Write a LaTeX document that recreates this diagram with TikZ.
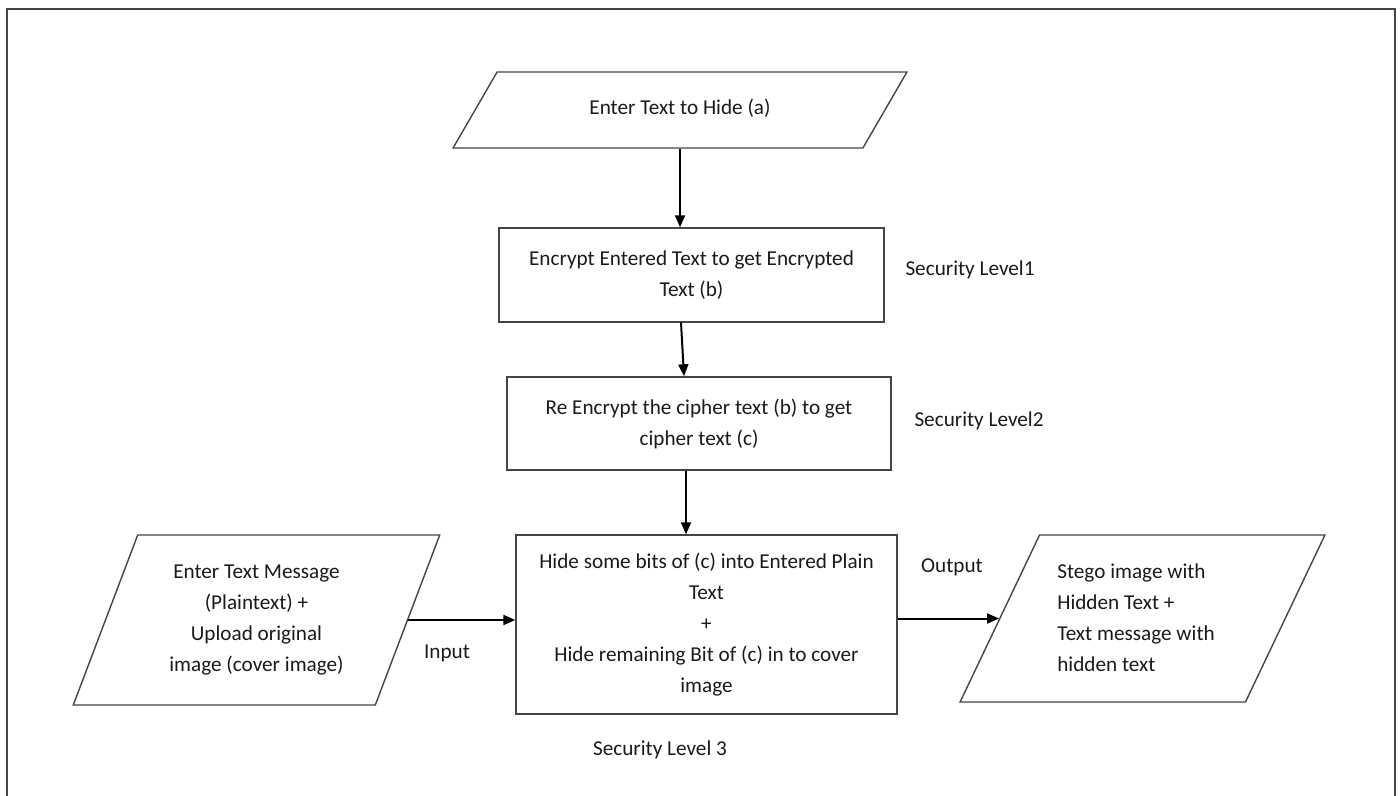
\documentclass[tikz,border=0pt]{standalone}
\usepackage{fontspec}
\setmainfont{Carlito}
\usepackage{xcolor}
\usepackage{tikz}
\usetikzlibrary{calc,arrows.meta,shapes.geometric}
\definecolor{edge}{HTML}{454545}
\definecolor{ink}{HTML}{1A1A1A}
\tikzset{
  stepbox/.style={draw=edge, line width=0.7pt, rectangle, align=center, text=ink,
    inner sep=0pt},
  iobox/.style={draw=edge, line width=0.7pt, trapezium, trapezium stretches=true,
    inner sep=0pt, text=ink},
  flow/.style={draw=black, line width=1pt, -{Triangle[length=6pt,width=5pt]}},
  lab/.style={text=ink, inner sep=1pt},
  every node/.style={font=\fontsize{10.6}{15.5}\selectfont},
}
\begin{document}
\begin{tikzpicture}[x=0.5pt,y=-0.5pt]
  \useasboundingbox (0,0) rectangle (1400,796);
  \clip (0,0) rectangle (1400,796);
  \draw[edge, line width=1pt] (7,9) rectangle (1395,820);

  \node[iobox, trapezium left angle=44.6, trapezium right angle=135.4,
        minimum width=227pt, minimum height=38pt] (hide) at (680,110)
        {\raisebox{3pt}{Enter Text to Hide (a)}};

  \node[stepbox, minimum width=192.5pt, minimum height=47pt] (enc) at (691.5,275)
        {\raisebox{4pt}{\begin{tabular}{@{}c@{}}Encrypt Entered Text to get Encrypted\\Text (b)\end{tabular}}};
  \node[stepbox, minimum width=192pt, minimum height=46.5pt] (reenc) at (699,423.5)
        {\raisebox{4pt}{\begin{tabular}{@{}c@{}}Re Encrypt the cipher text (b) to get\\cipher text (c)\end{tabular}}};
  \node[stepbox, minimum width=190.5pt, minimum height=89.5pt] (embed) at (706.5,624.5)
        {\raisebox{3pt}{\begin{tabular}{@{}c@{}}Hide some bits of (c) into Entered Plain\\Text\\+\\Hide remaining Bit of (c) in to cover\\image\end{tabular}}};

  \node[iobox, trapezium left angle=66.8, trapezium right angle=113.2,
        minimum width=183.5pt, minimum height=85pt, align=center] (msg) at (256.5,620)
        {Enter Text Message\\(Plaintext) +\\Upload original\\image (cover image)};
  \node[iobox, trapezium left angle=65.8, trapezium right angle=114.2,
        minimum width=182.5pt, minimum height=83.5pt, align=left] (stego) at (1142.5,618.5)
        {\hspace*{-6.5pt}\raisebox{3pt}{\begin{tabular}{@{}l@{}}Stego image with\\Hidden Text +\\Text message with\\hidden text\end{tabular}}};

  % labels
  \node[lab] (lv1) at (970,270) {Security Level1};
  \node[lab] (lv2) at (979,421) {Security Level2};
  \node[lab] (lv3) at (660,750) {Security Level 3};
  \node[lab] (inp) at (447,653) {Input};
  \node[lab] (outp) at (952,567) {Output};

  % arrows
  \draw[flow] (hide.south) -- (hide.south |- enc.north);
  \draw[flow] ($(enc.south)+(-10.5,0)$) -- ($(reenc.north)+(-15,0)$);
  \draw[flow] ($(reenc.south)+(-13,0)$) -- ($(embed.north)+(-20.5,0)$);
  \draw[flow] (msg.east) -- (msg.east -| embed.west);
  \draw[flow] (stego.west -| embed.east) -- (stego.west);
\end{tikzpicture}
\end{document}
